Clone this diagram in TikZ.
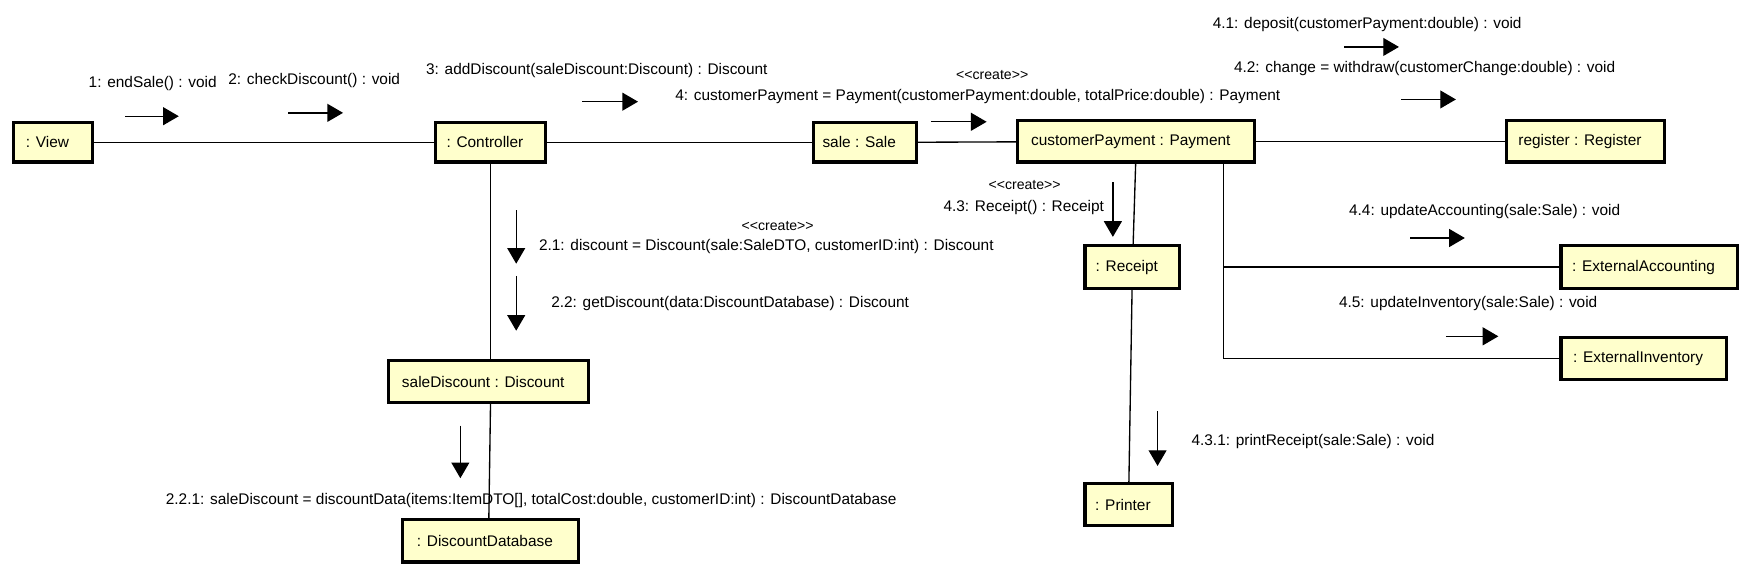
\documentclass[tikz,border=0pt]{standalone}
\usepackage{fontspec}
\newfontfamily\lab{Liberation Sans}
\usetikzlibrary{arrows.meta}
\definecolor{boxfill}{RGB}{255,255,204}
\newcommand{\objtext}[1]{#1\hspace*{5pt}}
\begin{document}
\begin{tikzpicture}[x=0.5pt,y=-0.5pt,
  obj/.style 2 args={draw, line width=1.4pt, fill=boxfill, inner sep=0pt,
    minimum width=#1*0.5pt, minimum height=#2*0.5pt, font=\lab\fontsize{6.9}{8}\selectfont},
  link/.style={line width=0.6pt},
  msg/.style={line width=0.6pt, -{Triangle[length=7pt,width=8pt]}},
  txt/.style={anchor=west, inner sep=0pt, font=\lab\fontsize{6.9}{8}\selectfont},
  stereo/.style={inner sep=0pt, font=\lab\fontsize{6.3}{7}\selectfont}]
\useasboundingbox (0,0) rectangle (1568,514);
% objects
\node[obj={71}{35}] (view) at (47.5,127.5) {\objtext{: View}};
\node[obj={98}{35}] (ctrl) at (439,127.5) {\objtext{: Controller}};
\node[obj={92}{35}] (sale) at (774,127.5) {\objtext{sale : Sale}};
\node[obj={212}{37}] (pay) at (1017,126.5) {\objtext{customerPayment : Payment}};
\node[obj={142}{37}] (reg) at (1419,126.5) {\objtext{register : Register}};
\node[obj={85}{38}] (rec) at (1013.5,239) {\objtext{: Receipt}};
\node[obj={158}{38}] (acc) at (1476,239) {\objtext{: ExternalAccounting}};
\node[obj={148}{38}] (inv) at (1471,321) {\objtext{: ExternalInventory}};
\node[obj={179}{37}] (disc) at (437.5,341.5) {\objtext{saleDiscount : Discount}};
\node[obj={158}{38}] (db) at (439,484) {\objtext{: DiscountDatabase}};
\node[obj={78}{37}] (prn) at (1010,451.5) {\objtext{: Printer}};
% links
\coordinate (pj) at (1095,0);
\draw[link] (view) -- (ctrl);
\draw[link] (ctrl) -- (sale);
\draw[link] (sale) -- (pay);
\draw[link] (pay) -- (reg);
\draw[link] (ctrl) -- (ctrl |- disc.north);
\draw[link] (disc.south -| ctrl) -- (db.north -| disc);
\draw[link] (pay) -- (rec);
\draw[link] (rec) -- (prn);
\draw[link] (pay.south -| pj) |- (acc.west);
\draw[link] (pay.south -| pj) |- (inv.west);
% messages
\draw[msg] (112,104) -- (160,104);
\node[txt] (t1) at (79,75) {1: endSale() : void};
\draw[msg] (258,101) -- (307,101);
\node[txt] (t2) at (204,72) {2: checkDiscount() : void};
\draw[msg] (521,91) -- (571,91);
\node[txt] (t3) at (381,63) {3: addDiscount(saleDiscount:Discount) : Discount};
\draw[msg] (833,109) -- (883,109);
\node[stereo] (s4) at (888,67) {\textless\textless create\textgreater\textgreater};
\node[txt] (t4) at (604,86) {4: customerPayment = Payment(customerPayment:double, totalPrice:double) : Payment};
\draw[msg] (1203,42) -- (1252,42);
\node[txt] (t41) at (1085,22) {4.1: deposit(customerPayment:double) : void};
\draw[msg] (1254,89) -- (1303,89);
\node[txt] (t42) at (1104,61) {4.2: change = withdraw(customerChange:double) : void};
\draw[msg] (996,163) -- (996,212);
\node[stereo] (s43) at (917,166) {\textless\textless create\textgreater\textgreater};
\node[txt] (t43) at (844,186) {4.3: Receipt() : Receipt};
\draw[msg] (1036,368) -- (1036,417);
\node[txt] (t431) at (1066,395) {4.3.1: printReceipt(sale:Sale) : void};
\draw[msg] (1262,213) -- (1311,213);
\node[txt] (t44) at (1207,189) {4.4: updateAccounting(sale:Sale) : void};
\draw[msg] (1294,301) -- (1341,301);
\node[txt] (t45) at (1198,272) {4.5: updateInventory(sale:Sale) : void};
\draw[msg] (462,188) -- (462,236);
\node[stereo] (s21) at (696,202) {\textless\textless create\textgreater\textgreater};
\node[txt] (t21) at (482,221) {2.1: discount = Discount(sale:SaleDTO, customerID:int) : Discount};
\draw[msg] (462,247) -- (462,296);
\node[txt] (t22) at (493,272) {2.2: getDiscount(data:DiscountDatabase) : Discount};
\draw[msg] (412,381) -- (412,428);
\node[txt] (t221) at (148,448) {2.2.1: saleDiscount = discountData(items:ItemDTO[], totalCost:double, customerID:int) : DiscountDatabase};
\end{tikzpicture}
\end{document}
